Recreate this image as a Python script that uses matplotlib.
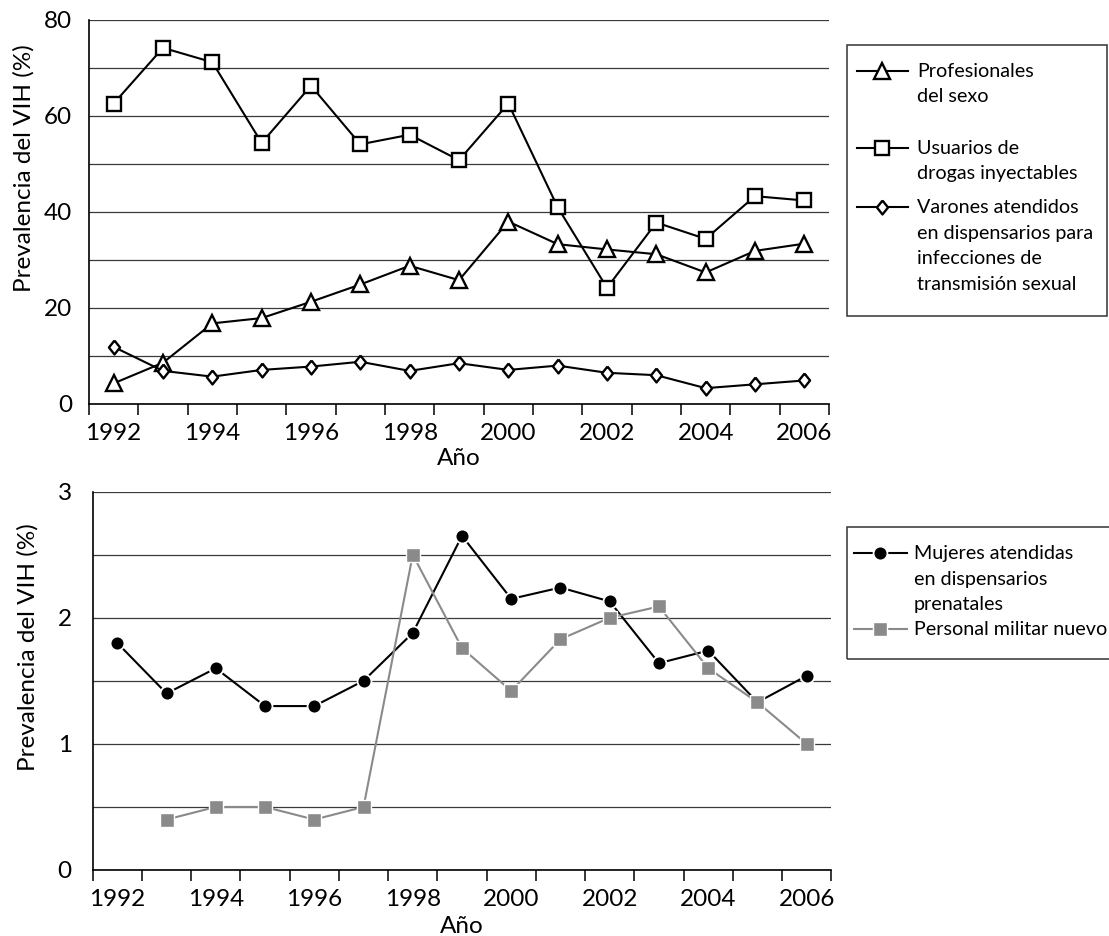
import matplotlib
matplotlib.use("Agg")
import matplotlib.pyplot as plt
from matplotlib.lines import Line2D
from matplotlib.patches import Rectangle

plt.rcParams['font.family'] = ['Lato', 'DejaVu Sans']

# ---------------- data ----------------
years = ["1992", "1993", "1994", "1995", "1996", "1997", "1998", "1999",
         "2000", "2001", "2002", "2003", "2004", "2005", "2006"]
tick_labels = ["1992", "", "1994", "", "1996", "", "1998", "",
               "2000", "", "2002", "", "2004", "", "2006"]

profesionales = [4.3, 8.6, 16.8, 17.9, 21.3, 24.9, 28.8, 25.8,
                 38.0, 33.3, 32.2, 31.2, 27.4, 31.9, 33.4]
usuarios = [62.6, 74.2, 71.2, 54.4, 66.3, 54.1, 56.1, 50.8,
            62.6, 41.0, 24.2, 37.8, 34.4, 43.3, 42.4]
varones = [11.9, 6.9, 5.7, 7.1, 7.8, 8.8, 6.9, 8.5,
           7.1, 8.0, 6.5, 6.0, 3.3, 4.1, 4.9]

mujeres = [1.80, 1.40, 1.60, 1.30, 1.30, 1.50, 1.88, 2.65,
           2.15, 2.24, 2.13, 1.64, 1.74, 1.33, 1.54]
militar = [None, 0.40, 0.50, 0.50, 0.40, 0.50, 2.50, 1.76,
           1.42, 1.83, 2.00, 2.09, 1.60, 1.33, 1.00]

top_labels = ["Profesionales\ndel sexo", "Usuarios de\ndrogas inyectables",
              "Varones atendidos\nen dispensarios para\ninfecciones de\ntransmisión sexual"]
bottom_labels = ["Mujeres atendidas\nen dispensarios\nprenatales", "Personal militar nuevo"]
ylabel = "Prevalencia del VIH (%)"
xlabel = "Año"

# ---------------- figure ----------------
W, H = 1109, 936
fig = plt.figure(figsize=(W / 100, H / 100), dpi=100)


def fx(x):
    return x / W


def fy(y):
    return 1 - y / H


GRID_C = "#3a3a3a"
GREY = "#8a8a8a"
TICK_FS = 17.5
LAB_FS = 17.5
LEG_FS = 14.2

diamond = [(0, 1), (0.8, 0), (0, -1), (-0.8, 0), (0, 1)]


def style_axes(ax, ymax, ymajor, yminor, ypad, xlpad):
    n = len(years)
    ax.set_xlim(-0.5, n - 0.5)
    ax.set_ylim(0, ymax)
    ax.set_xticks(range(n))
    ax.set_xticklabels(tick_labels, fontsize=TICK_FS)
    ax.set_xticks([i - 0.5 for i in range(n + 1)], minor=True)
    ax.tick_params(axis='x', which='major', length=0, pad=14)
    ax.tick_params(axis='x', which='minor', length=8, width=1.1, direction='out', color='black')
    ax.set_yticks(ymajor)
    ax.set_yticks(yminor, minor=True)
    ax.tick_params(axis='y', which='both', length=0, labelsize=TICK_FS, pad=ypad)
    ax.yaxis.grid(True, which='both', color=GRID_C, lw=0.9)
    ax.set_axisbelow(True)
    for s in ['top', 'right']:
        ax.spines[s].set_visible(False)
    for s in ['left', 'bottom']:
        ax.spines[s].set_linewidth(1.2)
        ax.spines[s].set_color('black')
    ax.set_ylabel(ylabel, fontsize=LAB_FS)
    ax.set_xlabel(xlabel, fontsize=LAB_FS, labelpad=xlpad)


# ---------------- top panel ----------------
L1, R1, T1, B1 = 89, 829, 20, 404
ax1 = fig.add_axes([fx(L1), fy(B1), fx(R1 - L1), (B1 - T1) / H])
x = list(range(len(years)))
mk = dict(color='black', lw=1.5, mfc='white', mec='black', mew=1.7, zorder=3, clip_on=False)
ax1.plot(x, usuarios, marker='s', ms=10, **mk)
ax1.plot(x, profesionales, marker='^', ms=11, **mk)
ax1.plot(x, varones, marker=diamond, ms=10, **mk)
style_axes(ax1, 80, [0, 20, 40, 60, 80], [10, 30, 50, 70], 12, 2.5)
ax1.yaxis.set_label_coords((35 - L1) / (R1 - L1), (B1 - 168) / (B1 - T1))

# ---------------- bottom panel ----------------
L2, R2, T2, B2 = 92.7, 831.3, 491.7, 870
ax2 = fig.add_axes([fx(L2), fy(B2), fx(R2 - L2), (B2 - T2) / H])
xm = [i for i, v in enumerate(militar) if v is not None]
vm = [v for v in militar if v is not None]
ax2.plot(x, mujeres, color='black', lw=1.5, zorder=3)
ax2.plot(xm, vm, color=GREY, lw=1.5, zorder=3)
ax2.plot(x, mujeres, ls='none', marker='o', ms=10, mfc='black', mec='white', mew=1.3, zorder=4)
ax2.plot(xm, vm, ls='none', marker='s', ms=9.5, mfc=GREY, mec='white', mew=1.0, zorder=5)
style_axes(ax2, 3, [0, 1, 2, 3], [0.5, 1.5, 2.5], 15, 4)
ax2.yaxis.set_label_coords((39 - L2) / (R2 - L2), (B2 - 647) / (B2 - T2))

# ---------------- legends (manual) ----------------
def legend_box(x0, y0, x1, y1):
    r = Rectangle((fx(x0), fy(y1)), fx(x1 - x0), (y1 - y0) / H, transform=fig.transFigure,
                  fill=False, ec='#333333', lw=1.1, clip_on=False)
    fig.add_artist(r)


def legend_entry(y, x0, x1, xm_, text_x, label, color, marker, ms, mfc, mec, mew, spacing=25.5):
    fig.add_artist(Line2D([fx(x0), fx(x1)], [fy(y), fy(y)], transform=fig.transFigure,
                          color=color, lw=1.5))
    fig.add_artist(Line2D([fx(xm_)], [fy(y)], transform=fig.transFigure, ls='none',
                          marker=marker, ms=ms, mfc=mfc, mec=mec, mew=mew))
    for i, line in enumerate(label.split("\n")):
        fig.text(fx(text_x), fy(y + 6 + i * spacing), line, fontsize=LEG_FS,
                 va='baseline', ha='left')


legend_box(847, 45, 1107, 316)
legend_entry(71, 857, 908, 882, 917, top_labels[0], 'black', '^', 11, 'white', 'black', 1.7)
legend_entry(148, 857, 908, 882, 917, top_labels[1], 'black', 's', 10, 'white', 'black', 1.7)
legend_entry(207, 857, 908, 882, 917, top_labels[2], 'black', diamond, 10, 'white', 'black', 1.7)

legend_box(847, 527, 1115, 659)
legend_entry(553, 854, 907, 880, 914, bottom_labels[0], 'black', 'o', 10, 'black', 'white', 1.3)
legend_entry(629, 854, 907, 880, 914, bottom_labels[1], GREY, 's', 9.5, GREY, 'white', 1.0)

fig.savefig("out.png", dpi=100)
